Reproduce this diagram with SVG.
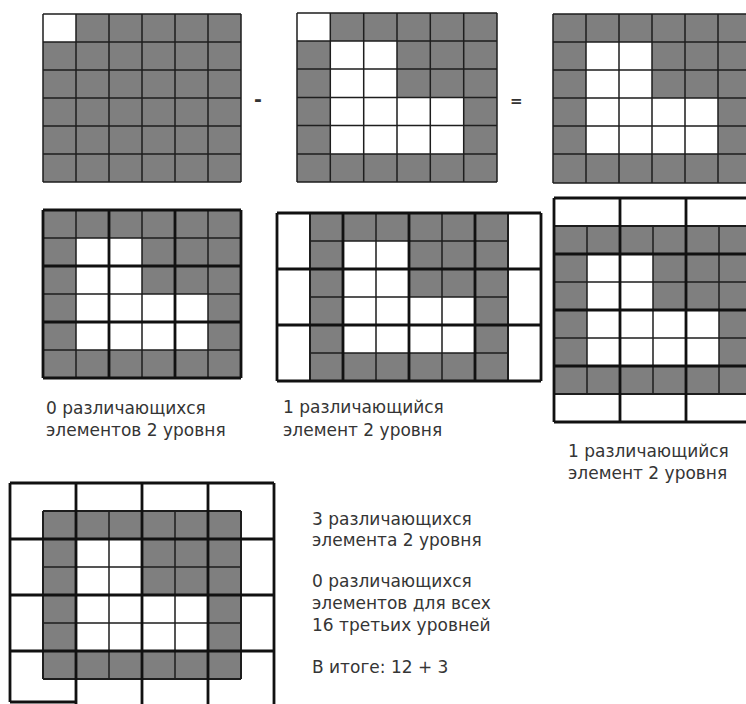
<svg xmlns="http://www.w3.org/2000/svg" width="746" height="704" viewBox="0 0 746 704">
<style>
.bg{fill:#ffffff}
.g{fill:#7f7f7f}
.w{fill:#ffffff}
.thin{fill:none;stroke:#1e1e1e;stroke-width:1.5}
.edge{fill:none;stroke:#1e1e1e;stroke-width:2}
.thick{fill:none;stroke:#111111;stroke-width:2.8}
.t{font-family:"DejaVu Sans","Noto Sans",sans-serif;font-size:17px;fill:#353535}
.op{font-family:"DejaVu Sans","Noto Sans",sans-serif;font-weight:bold;fill:#333333}
</style>
<rect class="bg" x="0" y="0" width="746" height="704"/>

<g id="gridA">
<rect class="g" x="43" y="14" width="198" height="168"/>
<rect class="w" x="43" y="14" width="33" height="28"/>
<path class="thin" d="M43 14V182M76 14V182M109 14V182M142 14V182M175 14V182M208 14V182M241 14V182M43 14H241M43 42H241M43 70H241M43 98H241M43 126H241M43 154H241M43 182H241"/>
</g>

<text id="minus" class="op" x="254" y="106" font-size="19">-</text>

<g id="gridB">
<rect class="g" x="297" y="13" width="200" height="169"/>
<rect class="w" x="297" y="13" width="33.3" height="28"/>
<rect class="w" x="330.3" y="41" width="66.7" height="56.5"/>
<rect class="w" x="330.3" y="97.5" width="133.4" height="56.5"/>
<path class="thin" d="M297 13V182M330.3 13V182M363.7 13V182M397 13V182M430.3 13V182M463.7 13V182M497 13V182M297 13H497M297 41H497M297 69H497M297 97.5H497M297 125.5H497M297 154H497M297 182H497"/>
</g>

<text id="equals" class="op" x="510" y="106" font-size="15">=</text>

<g id="gridC">
<rect class="g" x="553" y="14" width="198" height="169"/>
<rect class="w" x="586" y="42" width="66" height="56"/>
<rect class="w" x="586" y="98" width="132" height="56"/>
<path class="thin" d="M553 14V183M586 14V183M619 14V183M652 14V183M685 14V183M718 14V183M553 14H751M553 42H751M553 70H751M553 98H751M553 126H751M553 154H751M553 183H751"/>
</g>

<g id="gridD">
<rect class="g" x="43" y="210" width="198" height="168"/>
<rect class="w" x="76" y="238" width="66" height="56"/>
<rect class="w" x="76" y="294" width="132" height="56"/>
<path class="thin" d="M76 210V378M142 210V378M208 210V378M43 238H241M43 294H241M43 350H241"/>
<path class="thick" d="M43 210V378M109 210V378M175 210V378M241 210V378M43 210H241M43 266H241M43 322H241M43 378H241"/>
</g>

<g id="gridE">
<rect class="g" x="310" y="213" width="198" height="168"/>
<rect class="w" x="343" y="241" width="66" height="56"/>
<rect class="w" x="343" y="297" width="132" height="56"/>
<path class="thin" d="M376 213V381M442 213V381M310 241H508M310 297H508M310 353H508"/>
<path class="edge" d="M310 213V381M508 213V381"/>
<path class="thick" d="M277 213V381M343 213V381M409 213V381M475 213V381M541 213V381M277 213H541M277 269H541M277 325H541M277 381H541"/>
</g>

<g id="gridF">
<rect class="g" x="554" y="226" width="198" height="168"/>
<rect class="w" x="587" y="254" width="66" height="56"/>
<rect class="w" x="587" y="310" width="132" height="56"/>
<path class="thin" d="M587 226V394M653 226V394M719 226V394M554 282H752M554 338H752"/>
<path class="edge" d="M554 226H752M554 394H752"/>
<path class="thick" d="M554 198V422M620 198V422M686 198V422M554 198H752M554 254H752M554 310H752M554 366H752M554 422H752"/>
</g>

<g id="gridG">
<rect class="g" x="43" y="511" width="198" height="168"/>
<rect class="w" x="76" y="539" width="66" height="56"/>
<rect class="w" x="76" y="595" width="132" height="56"/>
<path class="thin" d="M109 511V679M175 511V679M43 567H241M43 623H241"/>
<path class="edge" d="M43 511V679M241 511V679M43 511H241M43 679H241"/>
<path class="thick" d="M10 483V702M76 483V706M142 483V706M208 483V706M274 483V706M10 483H274M10 539H274M10 595H274M10 651H274M10 702H76"/>
</g>

<g id="labels">
<text class="t" x="46" y="414">0 различающихся</text>
<text class="t" x="46" y="436">элементов 2 уровня</text>
<text class="t" x="283" y="413">1 различающийся</text>
<text class="t" x="283" y="436">элемент 2 уровня</text>
<text class="t" x="568" y="457">1 различающийся</text>
<text class="t" x="568" y="479">элемент 2 уровня</text>
<text class="t" x="312" y="525">3 различающихся</text>
<text class="t" x="312" y="546">элемента 2 уровня</text>
<text class="t" x="312" y="587">0 различающихся</text>
<text class="t" x="312" y="609">элементов для всех</text>
<text class="t" x="312" y="631">16 третьих уровней</text>
<text class="t" x="312" y="673">В итоге: 12 + 3</text>
</g>
</svg>
